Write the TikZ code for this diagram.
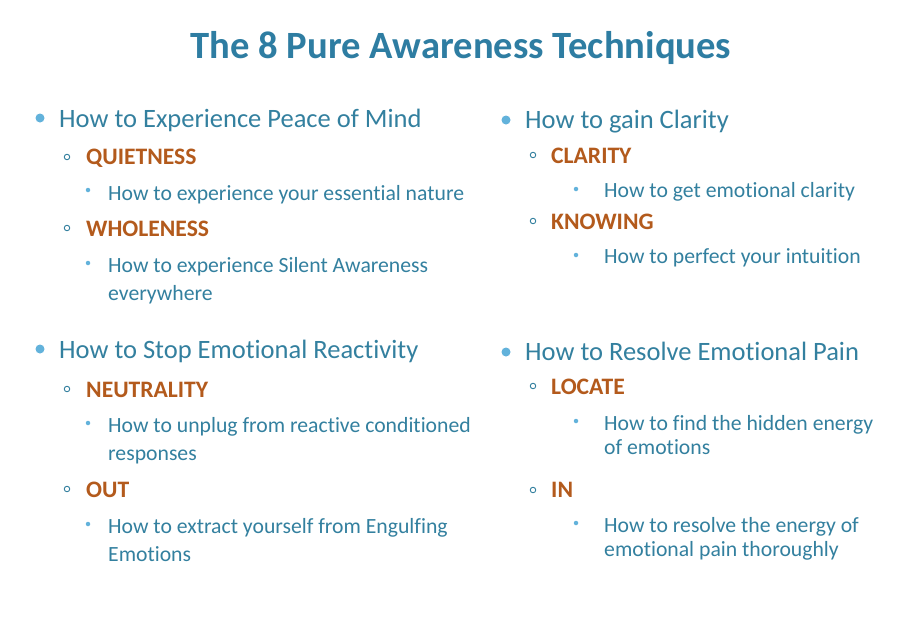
\documentclass[tikz,border=0pt]{standalone}
\usepackage{fontspec}
\setmainfont[Ligatures=NoCommon]{Carlito}
\definecolor{titleblue}{HTML}{2E7DA2}
\definecolor{textblue}{HTML}{33809F}
\definecolor{bulletblue}{HTML}{62B2DB}
\definecolor{orangeh}{HTML}{B35A1C}
\begin{document}
\begin{tikzpicture}[x=1pt,y=-1pt,
  titletext/.style={font=\fontsize{38.6}{46}\selectfont\bfseries, text=titleblue, anchor=base, inner sep=0pt},
  lvlone/.style={font=\fontsize{26.5}{31}\selectfont, text=textblue, anchor=base west, inner sep=0pt},
  lvltwo/.style={font=\fontsize{23.6}{28}\selectfont\bfseries, text=orangeh, anchor=base west, inner sep=0pt},
  lvlthree/.style={font=\fontsize{21.7}{26}\selectfont, text=textblue, anchor=base west, inner sep=0pt},
  bigdot/.style={circle, fill=bulletblue, inner sep=0pt, minimum size=9pt},
  ringdot/.style={circle, draw=textblue, line width=0.9pt, inner sep=0pt, minimum size=5.5pt},
  smalldot/.style={circle, fill=bulletblue, inner sep=0pt, minimum size=4.5pt}]
\useasboundingbox[fill=white] (0,0) rectangle (906,619);
\node[titletext] (title) at (461,58) {The 8 Pure Awareness Techniques};
% Left column
\node[bigdot] (b1) at (40,118) {};
\node[lvlone] (t1) at (59,127) {How to Experience Peace of Mind};
\node[ringdot] (r1) at (67,157) {};
\node[lvltwo] (q) at (86,164) {QUIETNESS};
\node[smalldot] (s1) at (88,190) {};
\node[lvlthree] (q1) at (108,200) {How to experience your essential nature};
\node[ringdot] (r2) at (67,228) {};
\node[lvltwo] (w) at (86,236) {WHOLENESS};
\node[smalldot] (s2) at (88,263) {};
\node[lvlthree] (w1) at (108,272) {How to experience Silent Awareness};
\node[lvlthree] (w2) at (108,300) {everywhere};
\node[bigdot] (b2) at (40,349) {};
\node[lvlone] (t2) at (59,358) {How to Stop Emotional Reactivity};
\node[ringdot] (r3) at (67,389) {};
\node[lvltwo] (n) at (86,397) {NEUTRALITY};
\node[smalldot] (s3) at (88,423) {};
\node[lvlthree] (n1) at (108,432) {How to unplug from reactive conditioned};
\node[lvlthree] (n2) at (108,460) {responses};
\node[ringdot] (r4) at (67,489) {};
\node[lvltwo] (o) at (86,497) {OUT};
\node[smalldot] (s4) at (88,524) {};
\node[lvlthree] (o1) at (108,533) {How to extract yourself from Engulfing};
\node[lvlthree] (o2) at (108,561) {Emotions};
% Right column
\node[bigdot] (b3) at (506,120) {};
\node[lvlone] (t3) at (525,128) {How to gain Clarity};
\node[ringdot] (r5) at (533,155) {};
\node[lvltwo] (c) at (551,163) {CLARITY};
\node[smalldot] (s5) at (576,189) {};
\node[lvlthree] (c1) at (604,197) {How to get emotional clarity};
\node[ringdot] (r6) at (533,221) {};
\node[lvltwo] (k) at (551,229) {KNOWING};
\node[smalldot] (s6) at (576,255) {};
\node[lvlthree] (k1) at (604,263) {How to perfect your intuition};
\node[bigdot] (b4) at (506,352) {};
\node[lvlone] (t4) at (525,360) {How to Resolve Emotional Pain};
\node[ringdot] (r7) at (533,386) {};
\node[lvltwo] (l) at (551,394) {LOCATE};
\node[smalldot] (s7) at (576,421) {};
\node[lvlthree] (l1) at (604,430) {How to find the hidden energy};
\node[lvlthree] (l2) at (604,454) {of emotions};
\node[ringdot] (r8) at (533,490) {};
\node[lvltwo] (i) at (551,497) {IN};
\node[smalldot] (s8) at (576,523) {};
\node[lvlthree] (i1) at (604,532) {How to resolve the energy of};
\node[lvlthree] (i2) at (604,556) {emotional pain thoroughly};
\end{tikzpicture}
\end{document}
